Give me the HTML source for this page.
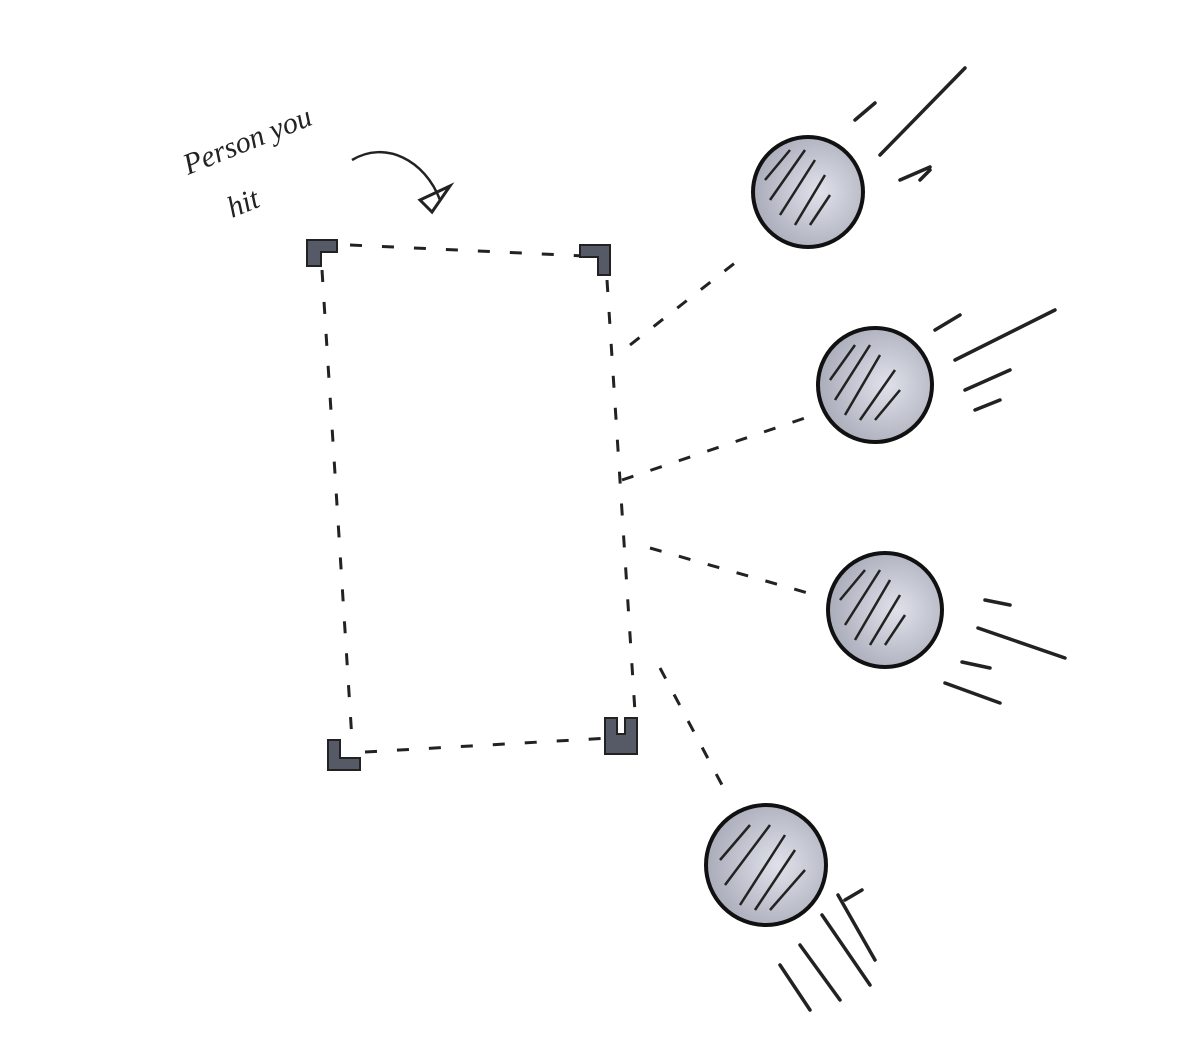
<!DOCTYPE html>
<html><head><meta charset="utf-8"><style>
html,body{margin:0;padding:0;background:#fff;}
svg{display:block;}
</style></head><body>
<svg width="1182" height="1038" viewBox="0 0 1182 1038" xmlns="http://www.w3.org/2000/svg">
<defs>
<radialGradient id="g" cx="0.6" cy="0.5" r="0.6">
<stop offset="0" stop-color="#dfe1ea"/><stop offset="1" stop-color="#a9acb9"/>
</radialGradient>
</defs>
<rect width="1182" height="1038" fill="#fff"/>
<g font-family="Liberation Serif, serif" font-style="italic" font-size="30" fill="#222">
<text x="188" y="175" transform="rotate(-22 188 175)">Person you</text>
<text x="232" y="218" transform="rotate(-22 232 218)">hit</text>
</g>
<path d="M352 160 C385 140 425 160 440 200" stroke="#222" stroke-width="2.5" fill="none"/>
<path d="M420 200 L450 186 L432 212 Z" fill="none" stroke="#222" stroke-width="3"/>
<g stroke="#222" stroke-width="3" fill="none" stroke-dasharray="12 20">
<path d="M350 245 L585 256"/>
<path d="M322 270 L352 740"/>
<path d="M607 280 L635 712"/>
<path d="M365 752 L610 738"/>
</g>
<g fill="#555a66" stroke="#222" stroke-width="2">
<path d="M307 240 h30 v12 h-16 v14 h-14 Z"/>
<path d="M580 245 h30 v30 h-12 v-18 h-18 Z"/>
<path d="M328 740 h12 v18 h20 v12 h-32 Z"/>
<path d="M605 718 h12 v16 h8 v-16 h12 v36 h-32 Z"/>
</g>
<g stroke="#222" stroke-width="3" fill="none" stroke-dasharray="12 18">
<path d="M630 345 L745 255"/>
<path d="M622 480 L805 418"/>
<path d="M650 548 L815 595"/>
<path d="M660 668 L730 800"/>
</g>
<g stroke="#111" stroke-width="4" fill="url(#g)">
<circle cx="808" cy="192" r="55"/>
<circle cx="875" cy="385" r="57"/>
<circle cx="885" cy="610" r="57"/>
<circle cx="766" cy="865" r="60"/>
</g>
<g stroke="#222" stroke-width="2.5">
<path d="M765 180 L790 150 M770 200 L805 150 M780 215 L815 160 M795 225 L825 175 M810 225 L830 195"/>
<path d="M830 380 L855 345 M835 400 L870 345 M845 415 L880 355 M860 420 L895 370 M875 420 L900 390"/>
<path d="M840 600 L865 570 M845 625 L880 570 M855 640 L890 580 M870 645 L900 595 M885 645 L905 615"/>
<path d="M720 860 L750 825 M725 885 L770 825 M740 905 L785 835 M755 910 L795 850 M770 910 L805 870"/>
</g>
<g stroke="#222" stroke-width="3.5" stroke-linecap="round">
<path d="M880 155 L965 68 M855 120 L875 103 M900 180 L930 167 M920 180 L930 170"/>
<path d="M955 360 L1055 310 M935 330 L960 315 M965 390 L1010 370 M975 410 L1000 400"/>
<path d="M978 628 L1065 658 M985 600 L1010 605 M962 662 L990 668 M945 683 L1000 703"/>
<path d="M780 965 L810 1010 M800 945 L840 1000 M822 915 L870 985 M838 895 L875 960 M845 900 L862 890"/>
</g>
</svg>
</body></html>
